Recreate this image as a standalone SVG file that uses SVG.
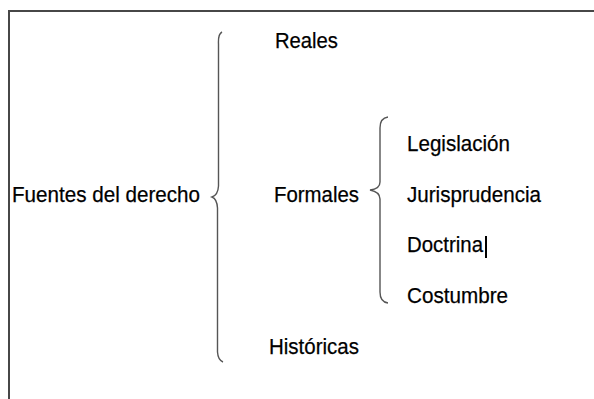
<svg xmlns="http://www.w3.org/2000/svg" width="594" height="399" viewBox="0 0 594 399">
<style>
.t{font-family:"Liberation Sans",Arial,sans-serif;font-size:22.5px;fill:#000;stroke:#000;stroke-width:0.25}
.br{fill:none;stroke:#555;stroke-width:1.4}
</style>
<rect width="594" height="399" fill="#fff"/>
<path d="M9,399 V11 H594" fill="none" stroke="#474747" stroke-width="2"/>
<g id="connectors">
<path class="br" d="M222,32 Q218,34 218.5,44 V186 Q218,195 212,197 Q217,199 217.5,208 V352 Q218,360 223,362"/>
<path class="br" d="M388,117 Q380,118 380,128 V182 Q380,189 370,190 Q380,192 380,199 V292 Q380,302 388,303"/>
</g>
<g id="fuentes"><text class="t" x="12" y="202" textLength="188" lengthAdjust="spacingAndGlyphs">Fuentes del derecho</text></g>
<g id="reales"><text class="t" x="275" y="48" textLength="63" lengthAdjust="spacingAndGlyphs">Reales</text></g>
<g id="formales"><text class="t" x="274" y="202" textLength="85" lengthAdjust="spacingAndGlyphs">Formales</text></g>
<g id="historicas"><text class="t" x="269" y="354" textLength="90" lengthAdjust="spacingAndGlyphs">Históricas</text></g>
<g id="legislacion"><text class="t" x="407" y="151" textLength="103" lengthAdjust="spacingAndGlyphs">Legislación</text></g>
<g id="jurisprudencia"><text class="t" x="407" y="202" textLength="134" lengthAdjust="spacingAndGlyphs">Jurisprudencia</text></g>
<g id="doctrina"><text class="t" x="407" y="252" textLength="76" lengthAdjust="spacingAndGlyphs">Doctrina</text><line x1="486" y1="236" x2="486" y2="258" stroke="#000" stroke-width="2"/></g>
<g id="costumbre"><text class="t" x="407" y="303" textLength="101" lengthAdjust="spacingAndGlyphs">Costumbre</text></g>
</svg>
